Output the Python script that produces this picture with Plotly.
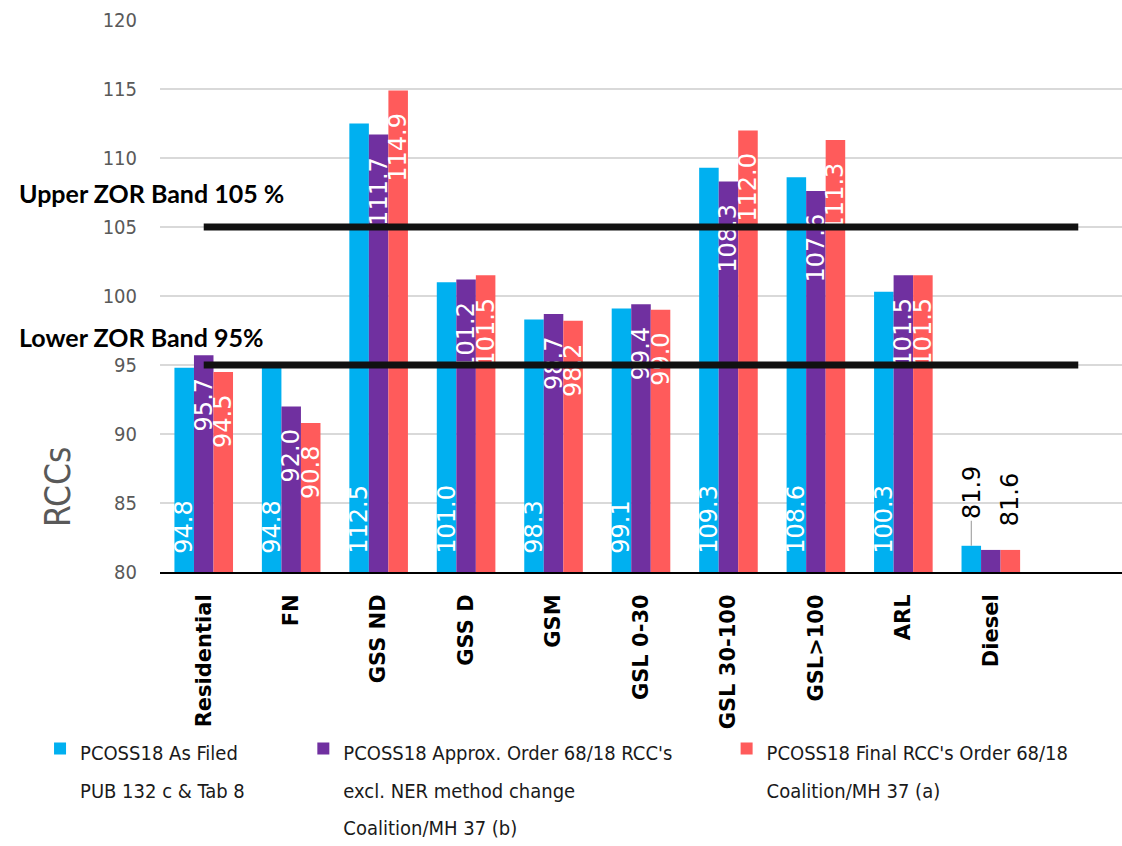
import plotly.graph_objects as go

categories = ["Residential", "FN", "GSS ND", "GSS D", "GSM", "GSL 0-30",
              "GSL 30-100", "GSL>100", "ARL", "Diesel"]
as_filed = [94.8, 94.8, 112.5, 101.0, 98.3, 99.1, 109.3, 108.6, 100.3, 81.9]
approx_order = [95.7, 92.0, 111.7, 101.2, 98.7, 99.4, 108.3, 107.6, 101.5, 81.6]
final_rcc = [94.5, 90.8, 114.9, 101.5, 98.2, 99.0, 112.0, 111.3, 101.5, 81.6]

series_names = [
    ["PCOSS18 As Filed", "PUB 132 c &amp; Tab 8"],
    ["PCOSS18 Approx. Order 68/18 RCC's", "excl. NER method change", "Coalition/MH 37 (b)"],
    ["PCOSS18 Final RCC's Order 68/18", "Coalition/MH 37 (a)"],
]
colors = ["#00B0F0", "#7030A0", "#FF5B5B"]
band_values = [105, 95]
band_labels = ["Upper ZOR Band 105 %", "Lower ZOR Band 95%"]
y_ticks = [80, 85, 90, 95, 100, 105, 110, 115, 120]
AXIS_MIN, AXIS_MAX = 80, 120

NARROW = "DejaVu Sans Condensed, Liberation Sans Narrow, sans-serif"
BAND_FONT = "Lato, Liberation Sans, sans-serif"
LABEL_FONT = "DejaVu Sans, Verdana, sans-serif"
PAD_BASE = "\u00a0\u00a0"
PAD_END = "\u2002\u00a0"
outside_cat = "Diesel"

fig = go.Figure()
series = [as_filed, approx_order, final_rcc]
anchors = ["start", "end", "end"]
legend_ids = ["legend", "legend2", "legend3"]
for i, vals in enumerate(series):
    texts = []
    for c, v in zip(categories, vals):
        if c == outside_cat:
            texts.append("")
        elif anchors[i] == "start":
            texts.append(PAD_BASE + f"{v:.1f}")
        else:
            texts.append(f"{v:.1f}" + PAD_END)
    name = "<br>".join(f'<span style="font-size:20px">{ln}</span>' for ln in series_names[i])
    fig.add_trace(go.Bar(
        x=categories, y=[v - AXIS_MIN for v in vals], base=AXIS_MIN,
        name=name, marker=dict(color=colors[i], line=dict(width=0)),
        text=texts, textposition="inside", insidetextanchor=anchors[i],
        textangle=-90, constraintext="none", cliponaxis=False,
        textfont=dict(family=LABEL_FONT, size=24, color="white"),
        legend=legend_ids[i],
    ))

# ZOR band lines
for b in band_values:
    fig.add_shape(type="line", xref="x", yref="y", x0=0, x1=len(categories),
                  y0=b, y1=b, line=dict(color="#111111", width=7), layer="above")

# band labels
for b, lab, sh in zip(band_values, band_labels, [34, 28]):
    fig.add_annotation(xref="paper", yref="y", x=-0.1486, y=b, yshift=sh,
                       xanchor="left", yanchor="middle", showarrow=False,
                       text=f"<b>{lab}</b>",
                       font=dict(family=BAND_FONT, size=25, color="black"))

# Diesel outside labels
idx = categories.index(outside_cat)
bw = 19.5
fig.add_annotation(x=outside_cat, y=as_filed[idx], xref="x", yref="y", xshift=-bw,
                   text=f"{as_filed[idx]:.1f}", textangle=-90, showarrow=True,
                   arrowhead=0, arrowwidth=1.2, arrowcolor="#A6A6A6", ax=0, ay=-53,
                   font=dict(family=LABEL_FONT, size=24, color="black"))
fig.add_annotation(x=outside_cat, y=final_rcc[idx], xref="x", yref="y", xshift=bw,
                   yshift=50, yanchor="middle",
                   text=f"{final_rcc[idx]:.1f}", textangle=-90, showarrow=False,
                   font=dict(family=LABEL_FONT, size=24, color="black"))

# axis title
fig.add_annotation(xref="paper", yref="paper", x=-0.106, y=0.154, text="RCCs",
                   xanchor="center", yanchor="middle",
                   textangle=-90, showarrow=False,
                   font=dict(family=NARROW, size=35, color="#595959"))

leg_common = dict(orientation="v", xanchor="left", yanchor="top", valign="top",
                  bgcolor="rgba(0,0,0,0)", font=dict(family=NARROW, size=29, color="#1a1a1a"),
                  itemclick=False)
fig.update_layout(
    width=1122, height=846,
    margin=dict(l=160, r=0, t=20, b=274, autoexpand=False),
    paper_bgcolor="white", plot_bgcolor="white",
    barmode="group", bargap=0.33, bargroupgap=0,
    showlegend=True,
    legend=dict(x=-0.1247, y=-0.274, **leg_common),
    legend2=dict(x=0.149, y=-0.274, **leg_common),
    legend3=dict(x=0.589, y=-0.274, **leg_common),
    xaxis=dict(type="category", categoryarray=categories, categoryorder="array",
               range=[-0.5, len(categories) + 0.5], tickangle=-90, ticks="",
               showgrid=False, showline=True, linecolor="black", linewidth=2,
               automargin=False,
               tickfont=dict(family="DejaVu Sans", size=21, color="black", weight="bold"),
               ticklabelstandoff=12),
    yaxis=dict(range=[AXIS_MIN, AXIS_MAX], tickvals=y_ticks, showgrid=True,
               gridcolor="#D9D9D9", gridwidth=2, zeroline=False, showline=False,
               ticks="", ticklabelstandoff=22, automargin=False,
               tickfont=dict(family=NARROW, size=20, color="#595959")),
)

fig.write_html("out.html")
